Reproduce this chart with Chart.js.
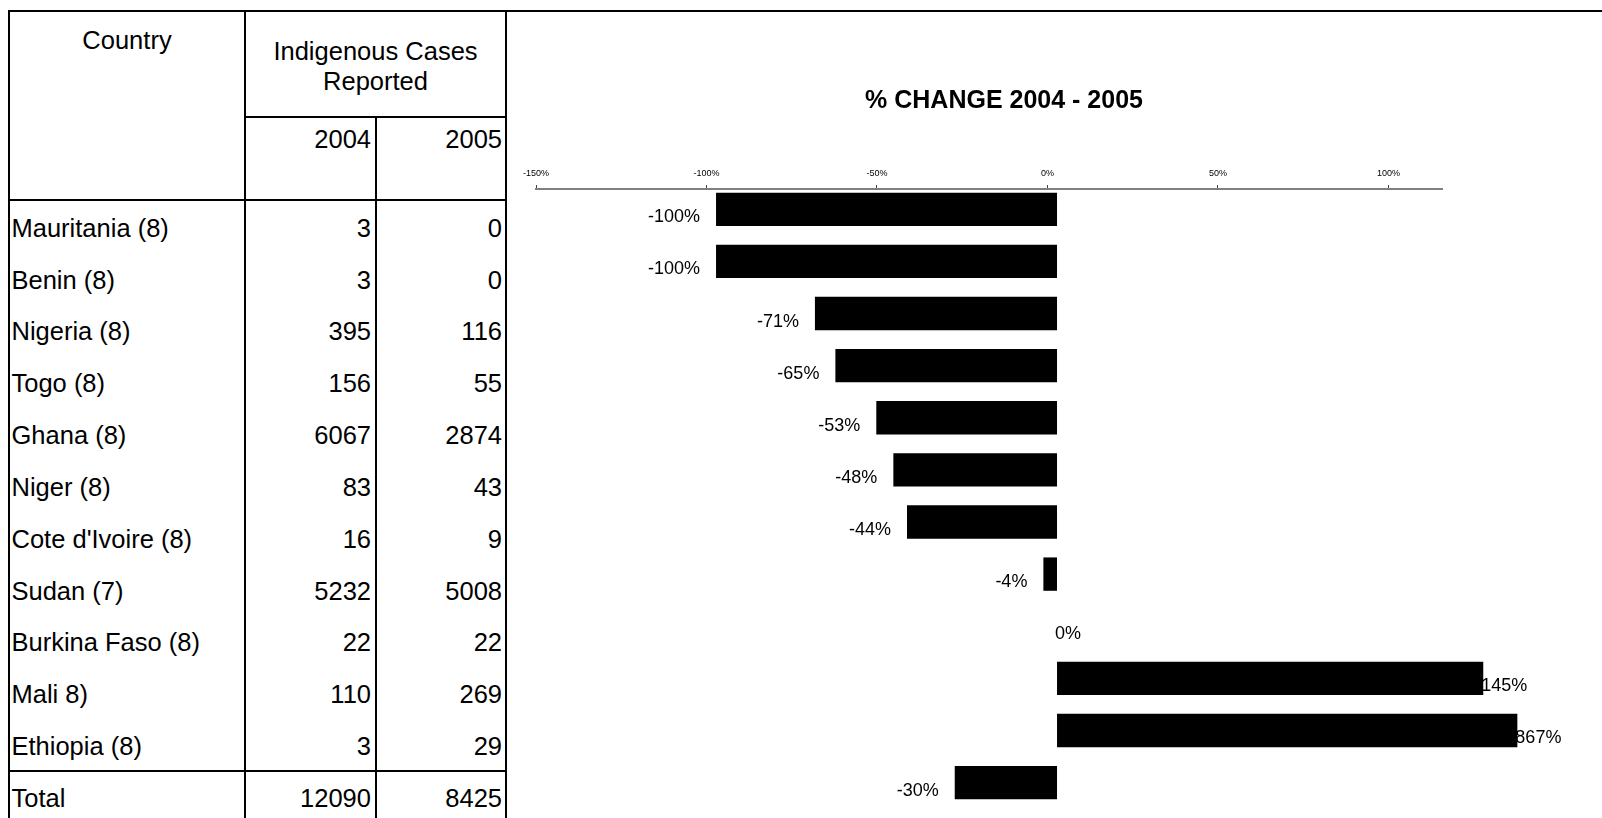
<!DOCTYPE html>
<html>
<head>
<meta charset="utf-8">
<title>% Change 2004 - 2005</title>
<script src="https://cdn.jsdelivr.net/npm/chart.js@4.4.1/dist/chart.umd.min.js"></script>
<style>
  html, body { margin: 0; padding: 0; background: #fff; }
  body { width: 1602px; height: 818px; position: relative; overflow: hidden;
         font-family: "Liberation Sans", Arial, sans-serif; color: #000; }
  .ln   { position: absolute; background: #000; }
  .cell { position: absolute; font-size: 25.5px; line-height: 28px; white-space: nowrap; }
  #chartBox { position: absolute; left: 506px; top: 0; width: 1096px; height: 818px; }
</style>
</head>
<body>
<div id="table"></div>
<div id="chartBox"><canvas id="chart" width="1096" height="818"></canvas></div>
<script>
// ---- Data ----
const countries = ['Mauritania (8)', 'Benin (8)', 'Nigeria (8)', 'Togo (8)', 'Ghana (8)', 'Niger (8)',
                   "Cote d'Ivoire (8)", 'Sudan (7)', 'Burkina Faso (8)', 'Mali 8)', 'Ethiopia (8)', 'Total'];
const cases2004 = [3, 3, 395, 156, 6067, 83, 16, 5232, 22, 110, 3, 12090];
const cases2005 = [0, 0, 116, 55, 2874, 43, 9, 5008, 22, 269, 29, 8425];
// labels printed next to each bar
const pctChange = [-100, -100, -71, -65, -53, -48, -44, -4, 0, 145, 867, -30];
// bar lengths as drawn (the two big positive bars are cut short in the original)
const barLength = [-100, -100, -71, -65, -53, -48, -44, -4, 0, 125, 135, -30];
const axisTicks = [-150, -100, -50, 0, 50, 100];

// ---- Table (left side) ----
const tbl = document.getElementById('table');

function line(x, y, w, h) {
  const d = document.createElement('div');
  d.className = 'ln';
  d.style.cssText = `left:${x}px;top:${y}px;width:${w}px;height:${h}px`;
  tbl.appendChild(d);
}

function cell(html, left, width, cy, align) {
  const d = document.createElement('div');
  d.className = 'cell';
  d.style.cssText = `left:${left}px;width:${width}px;top:${cy - 14}px;text-align:${align}`;
  d.innerHTML = html;
  tbl.appendChild(d);
}

// borders
line(8, 10, 1594, 2);     // top rule, runs across the whole page
line(8, 10, 2, 808);
line(244, 10, 2, 808);
line(375, 116, 2, 702);
line(505, 10, 2, 808);
line(244, 116, 263, 2);
line(8, 199, 499, 2);
line(8, 770, 499, 2);

// header
cell('Country', 10, 234, 39.5, 'center');
const hd = document.createElement('div');
hd.className = 'cell';
hd.style.cssText = 'left:246px;width:259px;top:35.5px;text-align:center;line-height:30px';
hd.innerHTML = 'Indigenous Cases<br>Reported';
tbl.appendChild(hd);
cell('2004', 246, 125, 138.5, 'right');
cell('2005', 377, 125, 138.5, 'right');

// rows
const ROW_TOP = 200.3, ROW_H = 51.84;
countries.forEach((c, i) => {
  const cy = ROW_TOP + ROW_H / 2 + ROW_H * i + 1.5;
  cell(c, 11.5, 230, cy, 'left');
  cell(String(cases2004[i]), 246, 125, cy, 'right');
  cell(String(cases2005[i]), 377, 125, cy, 'right');
});

// ---- Bar value labels (drawn before the bars so the bars overlap them) ----
const barLabels = {
  id: 'barLabels',
  beforeDatasetsDraw(chart) {
    const ctx  = chart.ctx;
    const meta = chart.getDatasetMeta(0);
    ctx.save();
    ctx.font = '18px "Liberation Sans", Arial, sans-serif';
    ctx.fillStyle = '#000';
    ctx.textBaseline = 'middle';
    meta.data.forEach((bar, i) => {
      const v = pctChange[i];
      const y = bar.y + 8;
      if (v < 0) {
        ctx.textAlign = 'right';
        ctx.fillText(v + '%', Math.min(bar.x, bar.base) - 16, y);
      } else {
        ctx.textAlign = 'left';
        ctx.fillText(v + '%', bar.x - 2, y);
      }
    });
    ctx.restore();
  }
};

// ---- Chart ----
const ctx = document.getElementById('chart').getContext('2d');
new Chart(ctx, {
  type: 'bar',
  data: {
    datasets: [{
      data: barLength.map((v, i) => ({ x: v, y: i })),
      xAxisID: 'xBar',
      yAxisID: 'y',
      backgroundColor: '#000',
      borderWidth: 0,
      barPercentage: 0.8,
      categoryPercentage: 0.8,
      clip: false
    }]
  },
  options: {
    indexAxis: 'y',
    responsive: false,
    animation: false,
    layout: { padding: { left: 30, right: 130, top: 0, bottom: 0 } },
    plugins: {
      legend:  { display: false },
      tooltip: { enabled: false },
      title: {
        display: true,
        text: '% CHANGE 2004 - 2005',
        color: '#000',
        font: { family: '"Liberation Sans", Arial, sans-serif', size: 25, weight: 'bold' },
        padding: { top: 86.5, bottom: 0 }
      }
    },
    scales: {
      x: {
        type: 'linear',
        position: 'top',
        min: -150,
        max: 115.7,
        afterBuildTicks: s => { s.ticks = axisTicks.map(v => ({ value: v })); },
        afterFit: s => { s.height = 189 - 86.5 - 30; },
        ticks: {
          color: '#000',
          font: { family: '"Liberation Sans", Arial, sans-serif', size: 9 },
          padding: 6,
          maxRotation: 0,
          callback: v => v + '%'
        },
        grid:   { drawOnChartArea: false, drawTicks: true, tickLength: 4, tickColor: '#444' },
        border: { display: true, color: '#808080', width: 2 }
      },
      xBar: {
        type: 'linear',
        display: false,
        min: -152.8,
        max: 112.9
      },
      y: {
        type: 'linear',
        position: 'right',
        reverse: true,
        offset: false,
        min: -0.39,
        max: 11.68,
        afterBuildTicks: s => { s.ticks = countries.map((c, i) => ({ value: i })); },
        afterFit: s => { s.width = 30; },
        ticks:  { display: false },
        grid:   { display: false, offset: false },
        border: { display: false }
      }
    }
  },
  plugins: [barLabels]
});
</script>
</body>
</html>
